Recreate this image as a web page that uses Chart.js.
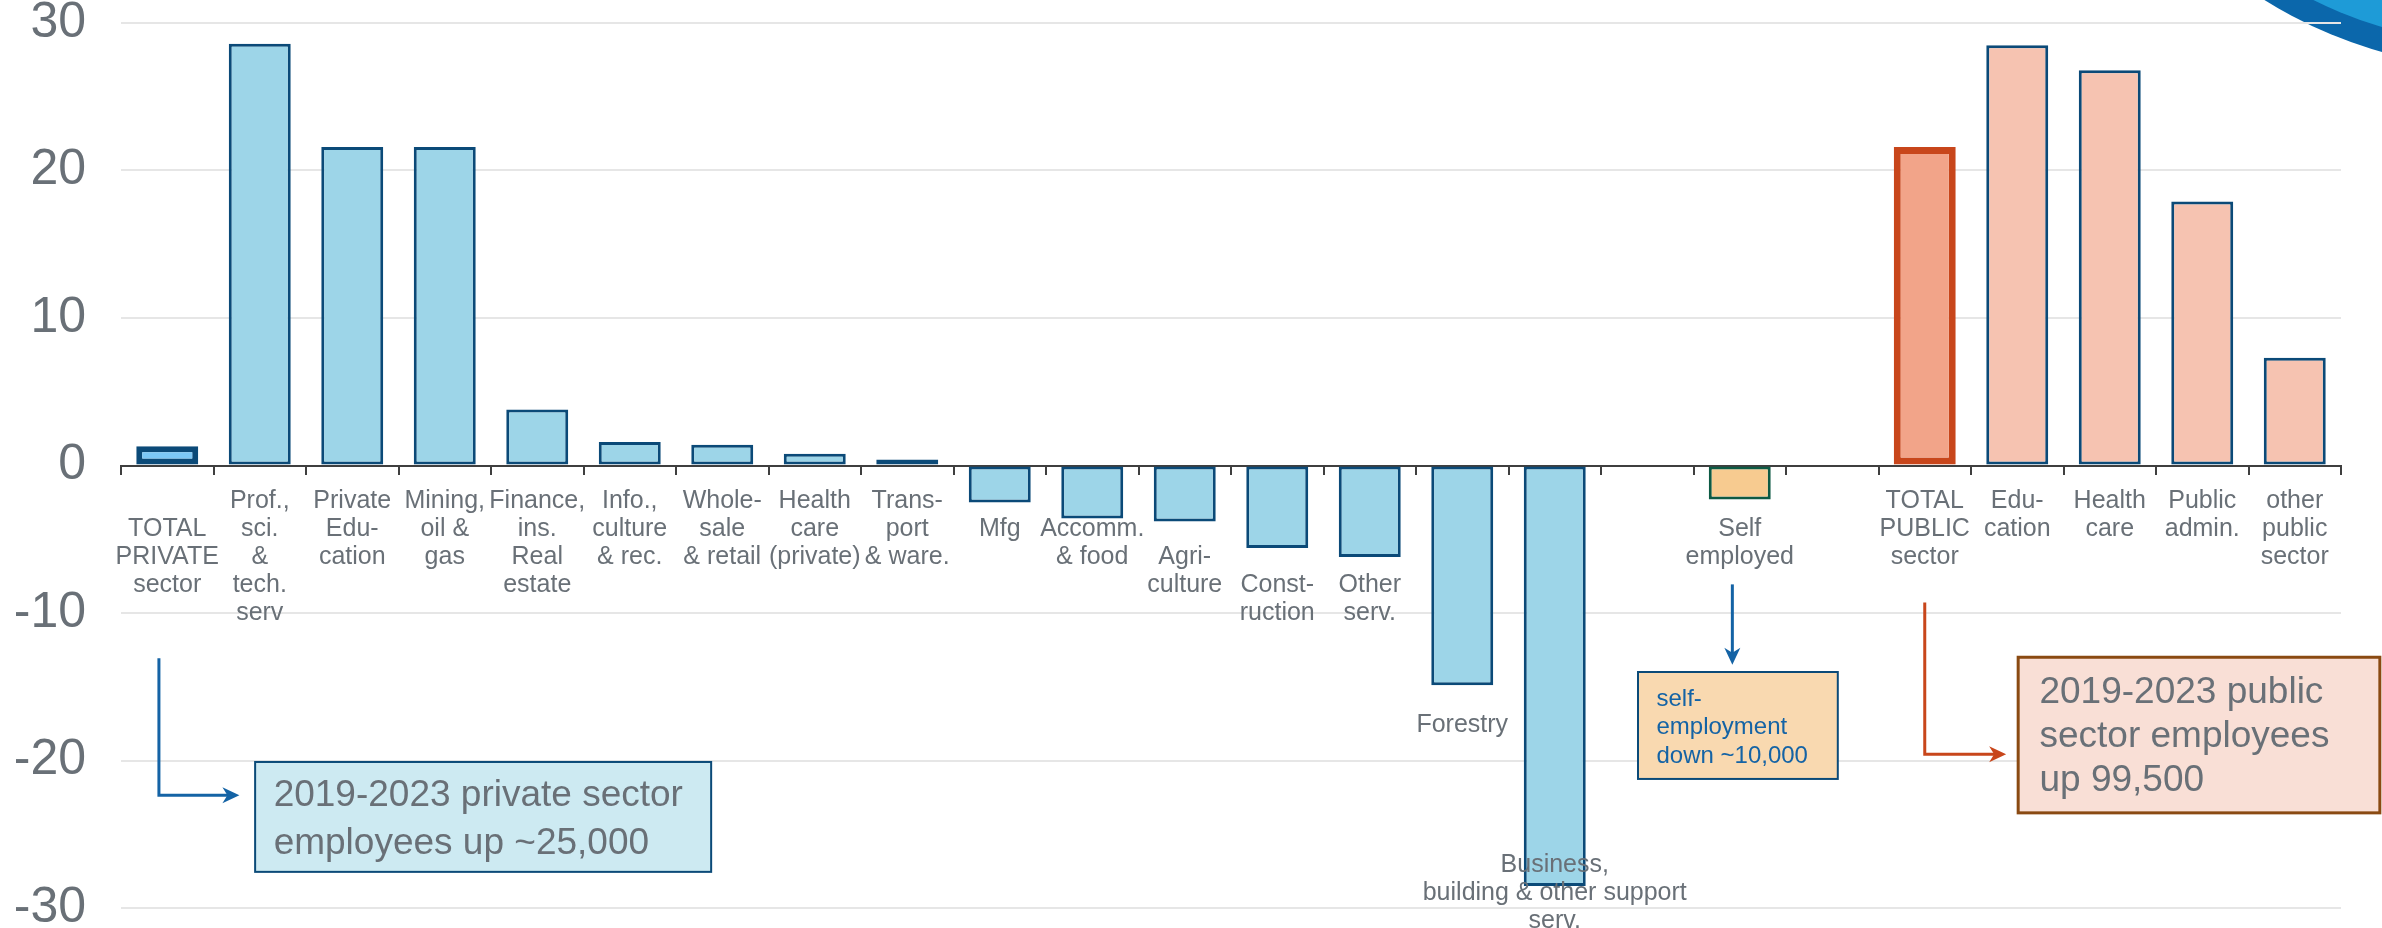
<!DOCTYPE html>
<html>
<head>
<meta charset="utf-8">
<script src="https://cdn.jsdelivr.net/npm/chart.js@4.4.1/dist/chart.umd.min.js"></script>
<style>
    html, body { margin: 0; padding: 0; background: #ffffff; }
    #wrap { width: 2382px; height: 928px; }
</style>
</head>
<body>
<div id="wrap"><canvas id="chart" width="2382" height="928"></canvas></div>
<script>
// Category labels, one entry per text line
const categories = [
    ['TOTAL', 'PRIVATE', 'sector'],
    ['Prof.,', 'sci.', '&', 'tech.', 'serv'],
    ['Private', 'Edu-', 'cation'],
    ['Mining,', 'oil &', 'gas'],
    ['Finance,', 'ins.', 'Real', 'estate'],
    ['Info.,', 'culture', '& rec.'],
    ['Whole-', 'sale', '& retail'],
    ['Health', 'care', '(private)'],
    ['Trans-', 'port', '& ware.'],
    ['Mfg'],
    ['Accomm.', '& food'],
    ['Agri-', 'culture'],
    ['Const-', 'ruction'],
    ['Other', 'serv.'],
    ['Forestry'],
    ['Business,', 'building & other support', 'serv.'],
    [],
    ['Self', 'employed'],
    [],
    ['TOTAL', 'PUBLIC', 'sector'],
    ['Edu-', 'cation'],
    ['Health', 'care'],
    ['Public', 'admin.'],
    ['other', 'public', 'sector']
];

// Change in employees 2019-2023 (thousands)
const changes = [1.3, 28.6, 21.6, 21.6, 3.8, 1.6, 1.4, 0.8, 0.4, -2.5, -3.6, -3.8, -5.6, -6.2, -14.9, -28.5,
    null, -2.3, null, 21.6, 28.5, 26.8, 17.9, 7.3];

// Which group each bar belongs to
const groups = ['privTotal', 'priv', 'priv', 'priv', 'priv', 'priv', 'priv', 'priv', 'priv', 'priv', 'priv',
    'priv', 'priv', 'priv', 'priv', 'priv', 'priv', 'self', 'self', 'pubTotal', 'pub', 'pub', 'pub', 'pub'];

const yTicks = [-30, -20, -10, 0, 10, 20, 30];

// Blank lines above each label so the text clears the negative bars
const labelRow = [1, 0, 0, 0, 0, 0, 0, 0, 0, 1, 1, 2, 3, 3, 8, 13, 0, 1, 0, 0, 0, 0, 0, 0];

const FONT = "'Liberation Sans', Arial, sans-serif";
const GREY = '#697077';

const groupStyle = {
    privTotal: { fill: '#7cc8f6', border: '#0b4a78', width: 6 },
    priv: { fill: '#9dd5e8', border: '#0b4a78', width: 3 },
    self: { fill: '#f7cb90', border: '#0d5a44', width: 3 },
    pubTotal: { fill: '#f2a489', border: '#c8461b', width: 7 },
    pub: { fill: '#f6c3b1', border: '#0b4a78', width: 3 }
};

// Call-out boxes (x in category units, y in axis units)
const notes = [
    {
        x0: 0.95, x1: 5.88, y0: -20.1, y1: -27.55, fill: '#cdeaf2', stroke: '#0b4a78', lw: 2,
        lines: ['2019-2023 private sector', 'employees up ~25,000'], tx: 1.15, ty: [-22.4, -25.65],
        size: 37, color: GREY
    },
    {
        x0: 15.9, x1: 18.06, y0: -14.0, y1: -21.25, fill: '#f9d9b0', stroke: '#0b4a78', lw: 2,
        lines: ['self-', 'employment', 'down ~10,000'], tx: 16.1, ty: [-15.85, -17.74, -19.71],
        size: 24, color: '#1463a5'
    },
    {
        x0: 20.01, x1: 23.92, y0: -13.0, y1: -23.55, fill: '#f9dfd6', stroke: '#8a4a12', lw: 3,
        lines: ['2019-2023 public', 'sector employees', 'up 99,500'], tx: 20.24, ty: [-15.4, -18.42, -21.4],
        size: 37, color: GREY
    }
];

const arrows = [
    { pts: [[-0.09, -13.07], [-0.09, -22.35], [0.78, -22.35]], color: '#1463a5' },
    { pts: [[16.92, -8.06], [16.92, -13.5]], color: '#1463a5' },
    { pts: [[19.0, -9.28], [19.0, -19.57], [19.88, -19.57]], color: '#c8461b' }
];

// Logo swoosh in the top right corner
const swooshPlugin = {
    id: 'swoosh',
    beforeDraw(chart) {
        const ctx = chart.ctx;
        ctx.save();
        ctx.beginPath();
        ctx.rect(0, 0, chart.width, chart.height);
        ctx.clip();
        ctx.fillStyle = '#0b67ab';
        ctx.beginPath();
        ctx.arc(2500, -374, 442, 0, Math.PI * 2);
        ctx.fill();
        ctx.fillStyle = '#1e9bd7';
        ctx.beginPath();
        ctx.arc(2500, -374, 418, 0, Math.PI * 2);
        ctx.fill();
        ctx.restore();
    }
};

function drawArrowHead(ctx, from, to, color) {
    const ang = Math.atan2(to[1] - from[1], to[0] - from[0]);
    const len = 17, half = 8, notch = 5;
    ctx.save();
    ctx.translate(to[0], to[1]);
    ctx.rotate(ang);
    ctx.fillStyle = color;
    ctx.beginPath();
    ctx.moveTo(0, 0);
    ctx.lineTo(-len, -half);
    ctx.lineTo(-len + notch, 0);
    ctx.lineTo(-len, half);
    ctx.closePath();
    ctx.fill();
    ctx.restore();
}

const notesPlugin = {
    id: 'notes',
    afterDraw(chart) {
        const ctx = chart.ctx;
        const xs = chart.scales.x, ys = chart.scales.y;
        const px = v => xs.getPixelForValue(v);
        const py = v => ys.getPixelForValue(v);
        ctx.save();

        notes.forEach(n => {
            const l = px(n.x0), r = px(n.x1), t = py(n.y0), b = py(n.y1);
            ctx.fillStyle = n.fill;
            ctx.fillRect(l, t, r - l, b - t);
            ctx.strokeStyle = n.stroke;
            ctx.lineWidth = n.lw;
            ctx.strokeRect(l, t, r - l, b - t);
            ctx.fillStyle = n.color;
            ctx.font = `${n.size}px ${FONT}`;
            ctx.textAlign = 'left';
            ctx.textBaseline = 'middle';
            n.lines.forEach((line, i) => ctx.fillText(line, px(n.tx), py(n.ty[i])));
        });

        arrows.forEach(a => {
            const pts = a.pts.map(p => [px(p[0]), py(p[1])]);
            const last = pts[pts.length - 1], prev = pts[pts.length - 2];
            const ang = Math.atan2(last[1] - prev[1], last[0] - prev[0]);
            ctx.strokeStyle = a.color;
            ctx.lineWidth = 3;
            ctx.beginPath();
            ctx.moveTo(pts[0][0], pts[0][1]);
            for (let i = 1; i < pts.length - 1; i++) ctx.lineTo(pts[i][0], pts[i][1]);
            // stop the shaft a little short of the tip
            ctx.lineTo(last[0] - Math.cos(ang) * 10, last[1] - Math.sin(ang) * 10);
            ctx.stroke();
            drawArrowHead(ctx, prev, last, a.color);
        });

        ctx.restore();
    }
};

const ctx = document.getElementById('chart').getContext('2d');
new Chart(ctx, {
    type: 'bar',
    data: {
        labels: categories.map((c, i) => Array(labelRow[i]).fill('').concat(c)),
        datasets: [{
            data: changes,
            backgroundColor: groups.map(g => groupStyle[g].fill),
            borderColor: groups.map(g => groupStyle[g].border),
            borderWidth: groups.map(g => groupStyle[g].width),
            borderSkipped: false,
            barPercentage: 0.67,
            categoryPercentage: 1
        }]
    },
    options: {
        responsive: false,
        animation: false,
        events: [],
        layout: { padding: { top: 23, bottom: 20, right: 41, left: 0 } },
        plugins: {
            legend: { display: false },
            tooltip: { enabled: false }
        },
        scales: {
            x: {
                position: { y: 0 },
                grid: {
                    drawOnChartArea: false,
                    drawTicks: true,
                    tickLength: 8,
                    color: '#3f3f3f',
                    lineWidth: 2,
                    offset: true
                },
                border: { color: '#3f3f3f', width: 2 },
                ticks: {
                    z: 1,
                    autoSkip: false,
                    maxRotation: 0,
                    minRotation: 0,
                    padding: 14,
                    color: GREY,
                    font: { family: FONT, size: 25, lineHeight: 1.12 }
                },
                afterFit: s => { s.paddingLeft = 0; s.paddingRight = 0; }
            },
            y: {
                min: yTicks[0],
                max: yTicks[yTicks.length - 1],
                afterBuildTicks: s => { s.ticks = yTicks.map(v => ({ value: v })); },
                ticks: {
                    padding: 35,
                    color: GREY,
                    font: { family: FONT, size: 50 }
                },
                grid: {
                    color: c => (c.tick && c.tick.value === 0) ? 'rgba(0,0,0,0)' : '#e6e6e6',
                    lineWidth: 2,
                    drawTicks: false
                },
                border: { display: false },
                afterFit: s => { s.width = 121; s.paddingTop = 0; s.paddingBottom = 0; }
            }
        }
    },
    plugins: [swooshPlugin, notesPlugin]
});
</script>
</body>
</html>
